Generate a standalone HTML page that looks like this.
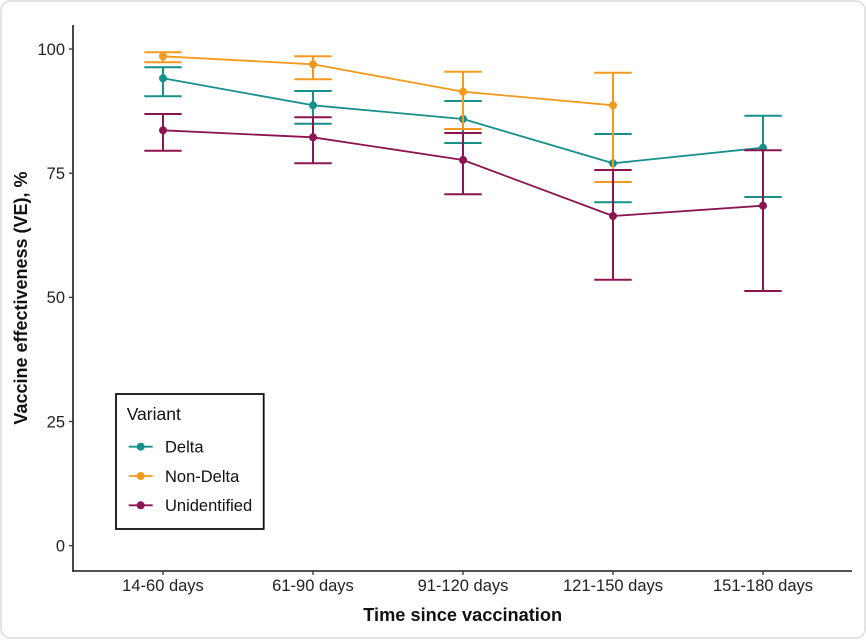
<!DOCTYPE html>
<html>
<head>
<meta charset="utf-8">
<style>
  html, body { margin: 0; padding: 0; background: #ffffff; }
  svg { display: block; }
  text { font-family: "Liberation Sans", Arial, sans-serif; }
</style>
</head>
<body>
<svg width="866" height="640" viewBox="0 0 866 640" xmlns="http://www.w3.org/2000/svg">
  <rect x="0" y="0" width="866" height="640" fill="#ffffff"/>
  <rect x="1" y="1" width="864" height="637" rx="9" ry="9" fill="#ffffff" stroke="#dcdcdc" stroke-width="1.5"/>

  <!-- axes -->
  <line x1="73" y1="25" x2="73" y2="571.7" stroke="#1a1a1a" stroke-width="1.6"/>
  <line x1="72.2" y1="571" x2="852" y2="571" stroke="#1a1a1a" stroke-width="1.6"/>

  <!-- y ticks -->
  <g stroke="#333" stroke-width="1.3">
    <line x1="69" y1="49" x2="73" y2="49"/>
    <line x1="69" y1="173.2" x2="73" y2="173.2"/>
    <line x1="69" y1="297.4" x2="73" y2="297.4"/>
    <line x1="69" y1="421.5" x2="73" y2="421.5"/>
    <line x1="69" y1="545.7" x2="73" y2="545.7"/>
  </g>
  <g font-size="16.5" fill="#222" text-anchor="end">
    <text x="65" y="54.8">100</text>
    <text x="65" y="179">75</text>
    <text x="65" y="303.2">50</text>
    <text x="65" y="427.3">25</text>
    <text x="65" y="551.5">0</text>
  </g>

  <!-- x ticks -->
  <g stroke="#333" stroke-width="1.3">
    <line x1="163" y1="571" x2="163" y2="575"/>
    <line x1="313" y1="571" x2="313" y2="575"/>
    <line x1="463" y1="571" x2="463" y2="575"/>
    <line x1="613" y1="571" x2="613" y2="575"/>
    <line x1="763" y1="571" x2="763" y2="575"/>
  </g>
  <g font-size="16.5" fill="#222" text-anchor="middle">
    <text x="163" y="591">14-60 days</text>
    <text x="313" y="591">61-90 days</text>
    <text x="463" y="591">91-120 days</text>
    <text x="613" y="591">121-150 days</text>
    <text x="763" y="591">151-180 days</text>
  </g>

  <!-- axis titles -->
  <text x="462.7" y="621" font-size="18.2" font-weight="bold" fill="#111" text-anchor="middle">Time since vaccination</text>
  <text transform="translate(27,298) rotate(-90)" font-size="18" font-weight="bold" fill="#111" text-anchor="middle">Vaccine effectiveness (VE), %</text>

  <!-- lines -->
  <g fill="none" stroke-width="1.8" stroke-linejoin="round">
    <polyline stroke="#16908A" points="163,78.3 313,105.3 463,119 613,163.3 763,147.7"/>
    <polyline stroke="#F39A1E" points="163,56.3 313,64.3 463,91.7 613,105.3"/>
    <polyline stroke="#8C1551" points="163,130.3 313,137.3 463,160 613,216 763,205.7"/>
  </g>

  <!-- points -->
  <g fill="#16908A">
    <circle cx="163" cy="78.3" r="4"/>
    <circle cx="313" cy="105.3" r="4"/>
    <circle cx="463" cy="119" r="4"/>
    <circle cx="613" cy="163.3" r="4"/>
    <circle cx="763" cy="147.7" r="4"/>
  </g>
  <g fill="#F39A1E">
    <circle cx="163" cy="56.3" r="4"/>
    <circle cx="313" cy="64.3" r="4"/>
    <circle cx="463" cy="91.7" r="4"/>
    <circle cx="613" cy="105.3" r="4"/>
  </g>
  <g fill="#8C1551">
    <circle cx="163" cy="130.3" r="4"/>
    <circle cx="313" cy="137.3" r="4"/>
    <circle cx="463" cy="160" r="4"/>
    <circle cx="613" cy="216" r="4"/>
    <circle cx="763" cy="205.7" r="4"/>
  </g>

  <!-- error bars -->
  <g fill="none" stroke="#16908A" stroke-width="2">
    <path d="M144.3,67.3H181.7M163,67.3V96.3M144.3,96.3H181.7"/>
    <path d="M294.3,91H331.7M313,91V123.7M294.3,123.7H331.7"/>
    <path d="M444.3,101H481.7M463,101V143M444.3,143H481.7"/>
    <path d="M594.3,134H631.7M613,134V202.3M594.3,202.3H631.7"/>
    <path d="M744.3,115.7H781.7M763,115.7V197M744.3,197H781.7"/>
  </g>
  <g fill="none" stroke="#F39A1E" stroke-width="2">
    <path d="M144.3,52.3H181.7M163,52.3V62.3M144.3,62.3H181.7"/>
    <path d="M294.3,56.3H331.7M313,56.3V79.3M294.3,79.3H331.7"/>
    <path d="M444.3,71.7H481.7M463,71.7V129M444.3,129H481.7"/>
    <path d="M594.3,72.7H631.7M613,72.7V182M594.3,182H631.7"/>
  </g>
  <g fill="none" stroke="#8C1551" stroke-width="2">
    <path d="M144.3,114H181.7M163,114V150.7M144.3,150.7H181.7"/>
    <path d="M294.3,117.3H331.7M313,117.3V163.3M294.3,163.3H331.7"/>
    <path d="M444.3,133H481.7M463,133V194.3M444.3,194.3H481.7"/>
    <path d="M594.3,170H631.7M613,170V279.7M594.3,279.7H631.7"/>
    <path d="M744.3,150.3H781.7M763,150.3V291M744.3,291H781.7"/>
  </g>

  <!-- legend -->
  <rect x="116" y="394" width="147.7" height="135" fill="#ffffff" stroke="#111" stroke-width="1.8"/>
  <text x="126.7" y="420" font-size="17.5" fill="#111">Variant</text>
  <g stroke-width="1.8">
    <line x1="128.7" y1="446.7" x2="152.7" y2="446.7" stroke="#16908A"/>
    <line x1="128.7" y1="476" x2="152.7" y2="476" stroke="#F39A1E"/>
    <line x1="128.7" y1="505.3" x2="152.7" y2="505.3" stroke="#8C1551"/>
  </g>
  <circle cx="140.7" cy="446.7" r="4" fill="#16908A"/>
  <circle cx="140.7" cy="476" r="4" fill="#F39A1E"/>
  <circle cx="140.7" cy="505.3" r="4" fill="#8C1551"/>
  <g font-size="16.5" fill="#111">
    <text x="165" y="452.7">Delta</text>
    <text x="165" y="481.9">Non-Delta</text>
    <text x="165" y="511">Unidentified</text>
  </g>
</svg>
</body>
</html>
